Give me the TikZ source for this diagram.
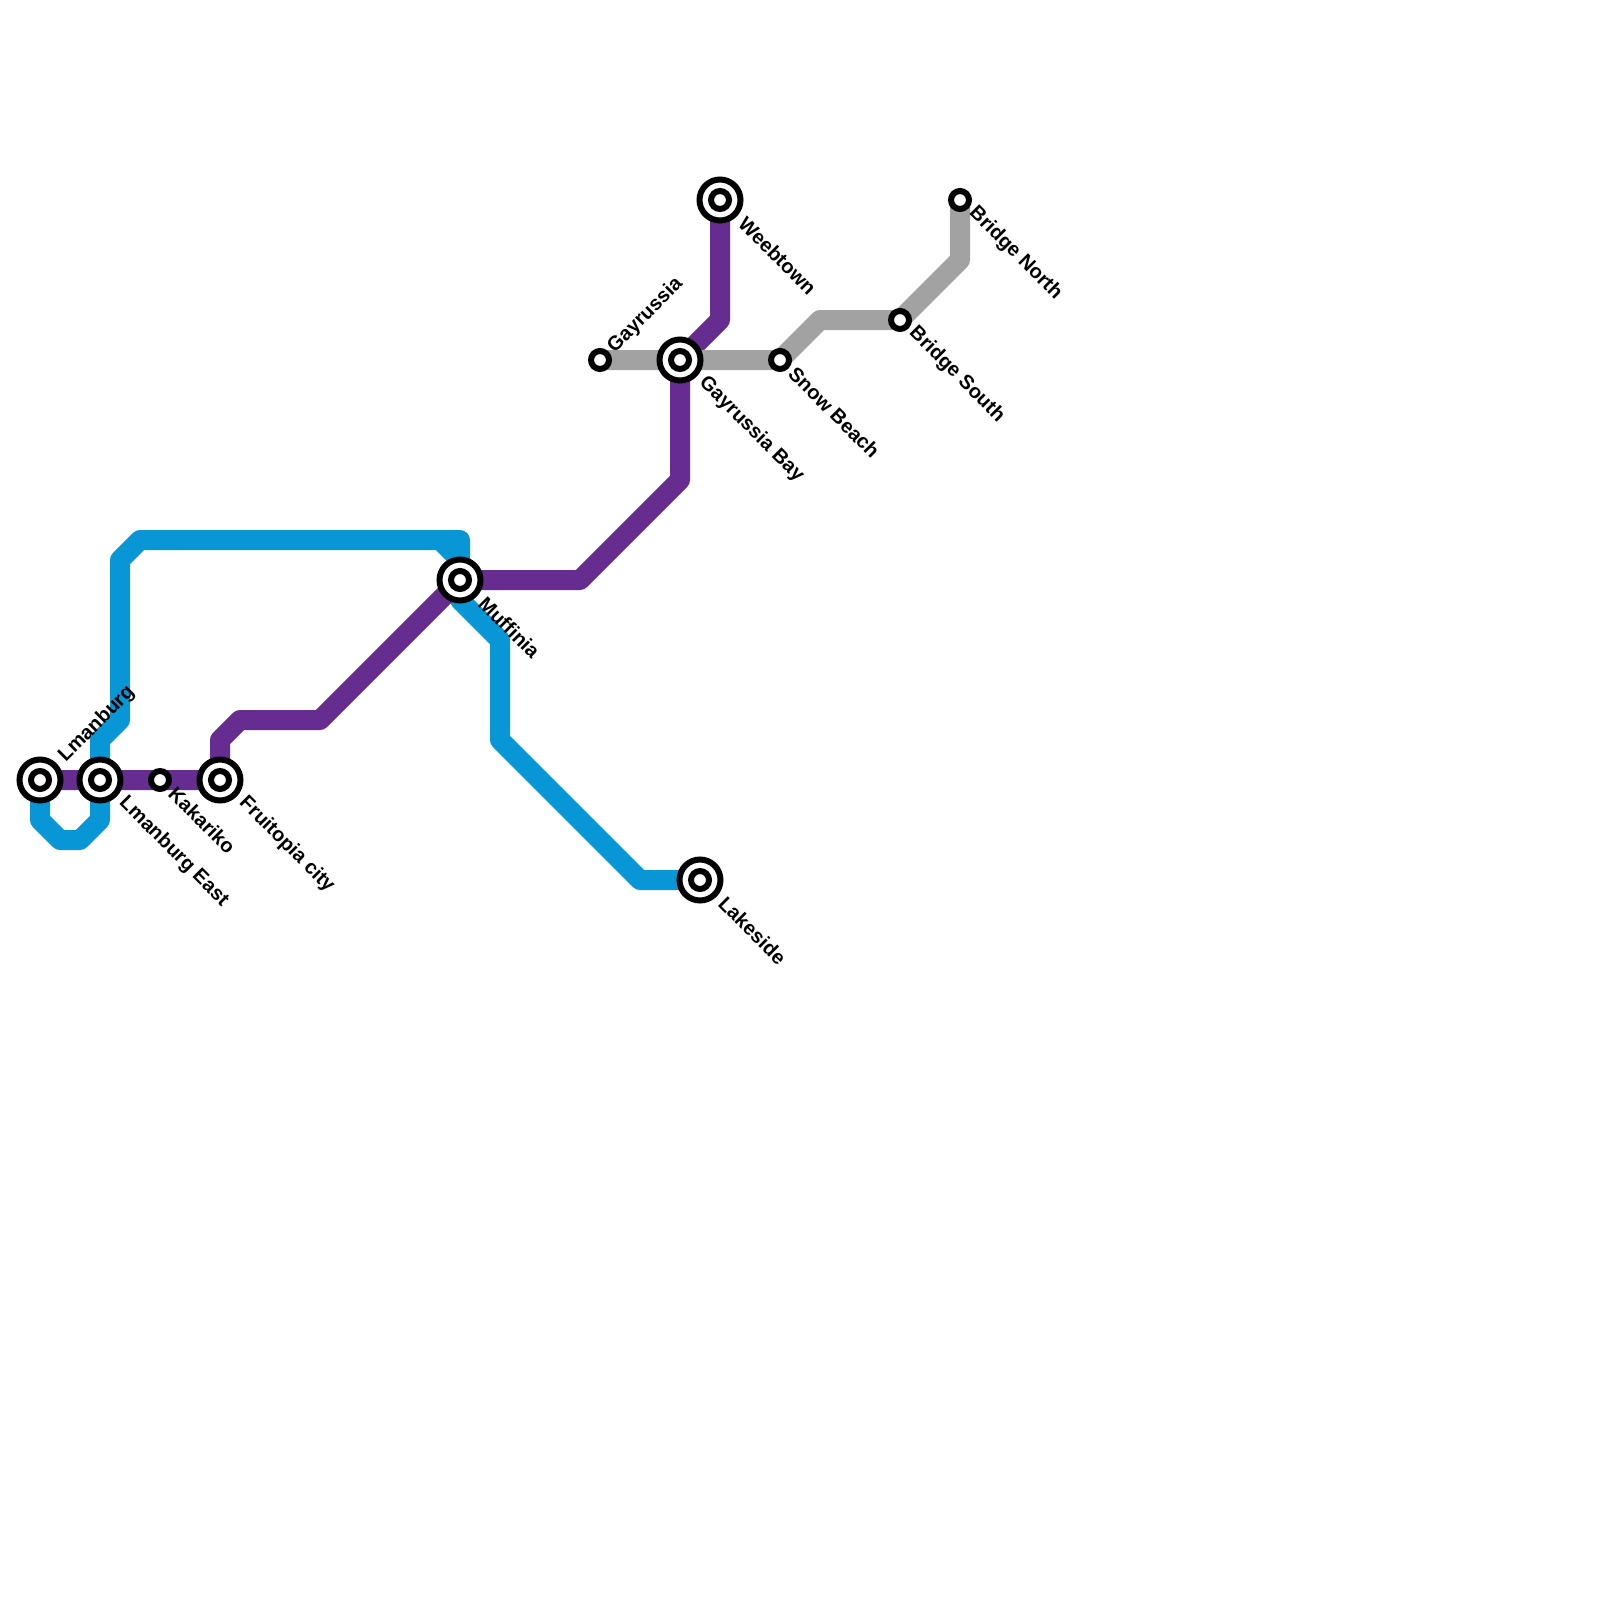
\documentclass[tikz,border=0pt]{standalone}
\usepackage{fontspec}
\setmainfont{Liberation Sans}
\usepackage{xcolor}
\definecolor{metroblue}{HTML}{0896D7}
\definecolor{metropurple}{HTML}{662C90}
\definecolor{metrogrey}{HTML}{A2A2A2}
\usetikzlibrary{backgrounds}
\tikzset{
  metroline/.style={line width=10pt,line join=round},
  hub/.style={circle,draw=black,fill=white,line width=3pt,minimum size=20.5pt,inner sep=0pt},
  stop/.style={circle,draw=black,fill=white,line width=3pt,minimum size=9pt,inner sep=0pt},
  lblse/.style={rotate=-45,anchor=west,inner sep=0pt,font=\bfseries\fontsize{10}{12}\selectfont},
  lblne/.style={rotate=45,anchor=west,inner sep=0pt,font=\bfseries\fontsize{10}{12}\selectfont},
}
\begin{document}
\begin{tikzpicture}[x=10pt,y=-10pt]
\useasboundingbox (0,0) rectangle (80,80);
\node[hub](lmanburg) at (2,39){};
\node[stop] at (lmanburg){};
\node[hub](lmanburgeast) at (5,39){};
\node[stop] at (lmanburgeast){};
\node[stop](kakariko) at (8,39){};
\node[hub](fruitopia) at (11,39){};
\node[stop] at (fruitopia){};
\node[hub](muffinia) at (23,29){};
\node[stop] at (muffinia){};
\node[hub](lakeside) at (35,44){};
\node[stop] at (lakeside){};
\node[stop](gayrussia) at (30,18){};
\node[hub](gayrussiabay) at (34,18){};
\node[stop] at (gayrussiabay){};
\node[hub](weebtown) at (36,10){};
\node[stop] at (weebtown){};
\node[stop](snowbeach) at (39,18){};
\node[stop](bridgesouth) at (45,16){};
\node[stop](bridgenorth) at (48,10){};
\begin{pgfonlayer}{background}
\draw[metroline,metroblue](lmanburg.center)--(2,41)--(3,42)--(4,42)--(5,41)--(5,37)--(6,36)--(6,28)--(7,27)--(23,27)--(muffinia.center)--(23,30)--(25,32)--(25,37)--(32,44)--(lakeside.center);
\draw[metroline,metroblue](22,27)--(23,28);
\draw[metroline,metropurple](lmanburg.center)--(fruitopia.center)--(11,37)--(12,36)--(16,36)--(muffinia.center)--(29,29)--(34,24)--(gayrussiabay.center)--(36,16)--(weebtown.center);
\draw[metroline,metrogrey](gayrussia.center)--(snowbeach.center)--(41,16)--(bridgesouth.center)--(48,13)--(bridgenorth.center);
\end{pgfonlayer}
\node[lblne](lbl-lmanburg) at ([shift={(1.1,-1.05)}]lmanburg){Lmanburg};
\node[lblse](lbl-lmanburgeast) at ([shift={(1.1,1.0)}]lmanburgeast){Lmanburg East};
\node[lblse](lbl-kakariko) at ([shift={(0.6,0.5)}]kakariko){Kakariko};
\node[lblse](lbl-fruitopia) at ([shift={(1.1,1.0)}]fruitopia){Fruitopia city};
\node[lblse](lbl-muffinia) at ([shift={(1.1,1.0)}]muffinia){Muffinia};
\node[lblse](lbl-lakeside) at ([shift={(1.1,1.0)}]lakeside){Lakeside};
\node[lblne](lbl-gayrussia) at ([shift={(0.55,-0.5)}]gayrussia){Gayrussia};
\node[lblse](lbl-gayrussiabay) at ([shift={(1.1,1.0)}]gayrussiabay){Gayrussia Bay};
\node[lblse](lbl-weebtown) at ([shift={(1.1,1.0)}]weebtown){Weebtown};
\node[lblse](lbl-snowbeach) at ([shift={(0.6,0.5)}]snowbeach){Snow Beach};
\node[lblse](lbl-bridgesouth) at ([shift={(0.6,0.5)}]bridgesouth){Bridge South};
\node[lblse](lbl-bridgenorth) at ([shift={(0.6,0.5)}]bridgenorth){Bridge North};
\end{tikzpicture}
\end{document}
